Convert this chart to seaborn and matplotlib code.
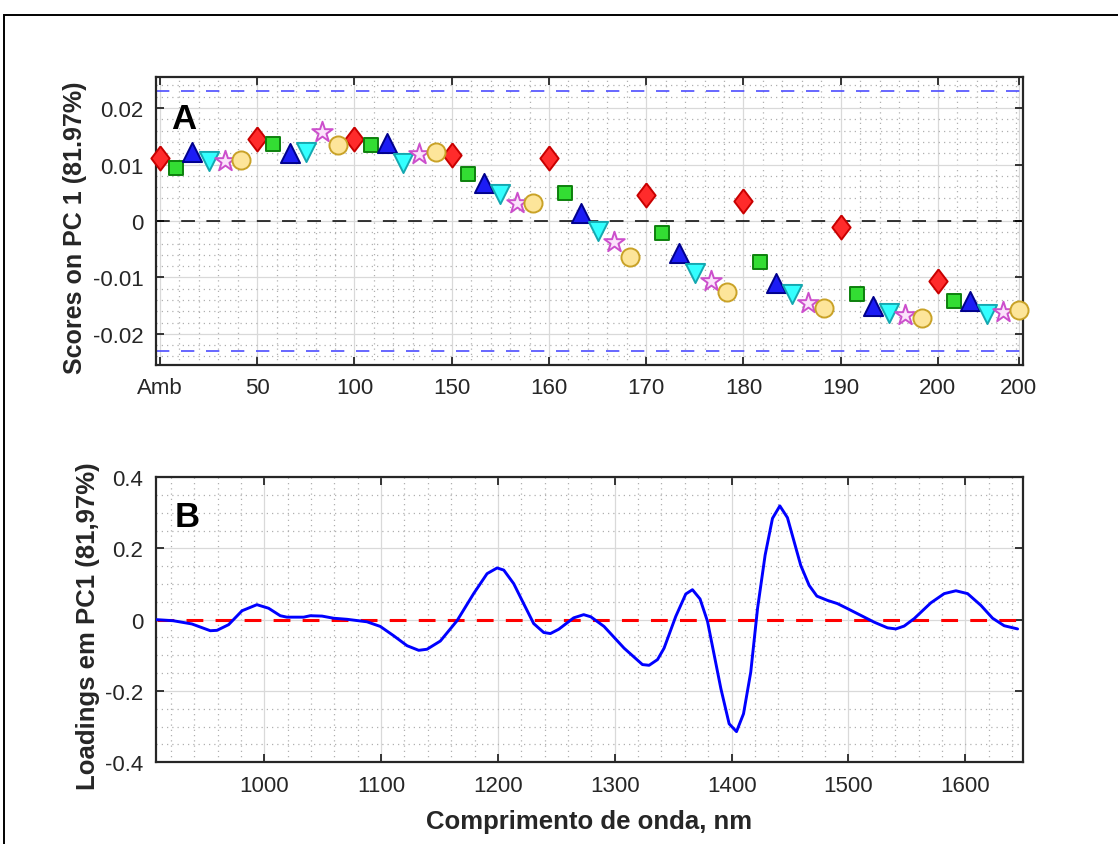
import numpy as np
import pandas as pd
import matplotlib
matplotlib.use("Agg")
import matplotlib.pyplot as plt
import seaborn as sns
from matplotlib.ticker import MultipleLocator, FixedLocator
from matplotlib.patches import Rectangle

sns.set_theme(style="white")
plt.rcParams["font.family"] = ["Liberation Sans", "DejaVu Sans"]

# ---------------- data ----------------
groups = ["Amb", "50", "100", "150", "160", "170", "180", "190", "200"]
tick_labels = ["Amb", "50", "100", "150", "160", "170", "180", "190", "200", "200"]

diamond = [0.0111, 0.0146, 0.0146, 0.0117, 0.0111, 0.0046, 0.0035, -0.0011, -0.0107]
square = [0.0094, 0.0136, 0.0135, 0.0083, 0.0050, -0.0021, -0.0073, -0.0129, -0.0141]
tri_up = [0.0123, 0.0120, 0.0138, 0.0067, 0.0014, -0.0057, -0.0110, -0.0151, -0.0142]
tri_down = [0.0106, 0.0123, 0.0103, 0.0047, -0.0018, -0.0092, -0.0129, -0.0163, -0.0165]
star = [0.0107, 0.0158, 0.0119, 0.0032, -0.0037, -0.0107, -0.0145, -0.0166, -0.0161]
circle = [0.0108, 0.0134, 0.0122, 0.0032, -0.0063, -0.0126, -0.0154, -0.0172, -0.0158]

conf_limit = 0.0231

wavelength = [907.8, 922, 938, 953.8, 959.5, 969.5, 981, 993.7, 1003.7, 1013.7,
              1019.4, 1033.7, 1039.4, 1049.4, 1059.3, 1070.8, 1087.9, 1099.3, 1110.7, 1122.2,
              1132.2, 1139.3, 1150.7, 1165, 1179.2, 1190.7, 1199.3, 1205, 1213.5, 1222,
              1230.6, 1239.2, 1244.9, 1252, 1264.8, 1273.4, 1279.5, 1290.8, 1308, 1323.7,
              1329.4, 1336.6, 1342.2, 1352.2, 1360.8, 1366.5, 1373, 1379.4, 1390.8, 1397.9,
              1404.2, 1410.2, 1416.4, 1422.2, 1428.7, 1435, 1441.3, 1447.8, 1459.2, 1466.4,
              1473, 1482.1, 1490.6, 1499.2, 1510.6, 1522, 1533.5, 1540.6, 1547.7, 1556.3,
              1570.5, 1582, 1592, 1602, 1613.4, 1623.4, 1633.3, 1644.8]
loading = [0.0, -0.003, -0.012, -0.031, -0.030, -0.014, 0.025, 0.042, 0.032, 0.011,
           0.007, 0.007, 0.011, 0.010, 0.004, 0.001, -0.006, -0.019, -0.045, -0.073,
           -0.086, -0.083, -0.060, -0.003, 0.073, 0.129, 0.145, 0.139, 0.101, 0.045,
           -0.011, -0.036, -0.039, -0.027, 0.005, 0.014, 0.008, -0.019, -0.080, -0.126,
           -0.128, -0.112, -0.080, 0.009, 0.072, 0.084, 0.058, -0.005, -0.193, -0.292,
           -0.314, -0.264, -0.147, 0.031, 0.181, 0.284, 0.319, 0.286, 0.152, 0.096,
           0.066, 0.054, 0.045, 0.031, 0.012, -0.007, -0.023, -0.026, -0.018, 0.003,
           0.047, 0.073, 0.081, 0.073, 0.040, 0.004, -0.017, -0.026]

# ---------------- styles ----------------
diamond_marker = [(0, 1), (0.76, 0), (0, -1), (-0.76, 0), (0, 1)]
series = [
    ("diamond", diamond, diamond_marker, 300, "#ff2b2b", "#c80000"),
    ("square", square, "s", 100, "#33dd33", "#0d800d"),
    ("tri_up", tri_up, "^", 190, "#1c1cf5", "#00008c"),
    ("tri_down", tri_down, "v", 190, "#33ffff", "#14a8b0"),
    ("star", star, "*", 240, "#fbe3fb", "#cc4fcc"),
    ("circle", circle, "o", 170, "#fde59a", "#c9a227"),
]
n_per = len(series)

rows = []
for k, (name, vals, *_rest) in enumerate(series):
    for g, v in enumerate(vals):
        rows.append({"series": name, "group": groups[g], "sample": g * n_per + k, "score": v})
df = pd.DataFrame(rows)
n_samples = len(groups) * n_per

fig = plt.figure(figsize=(11.18, 8.45), dpi=100)
ax1 = fig.add_axes([0.1395, 0.5669, 0.7755, 0.3408])
ax2 = fig.add_axes([0.1395, 0.0967, 0.7755, 0.3376])

spine_col = "#262626"
tick_fs = 16
label_fs = 18

# ---------------- panel A ----------------
ax1.axhline(0, color="black", lw=1.1, dashes=(9, 7.5), zorder=2)
for s in (conf_limit, -conf_limit):
    ax1.axhline(s, color="#4d4dff", lw=1.2, dashes=(8, 7), zorder=2)

for name, vals, mk, sz, fc, ec in series:
    sub = df[df["series"] == name]
    sns.scatterplot(data=sub, x="sample", y="score", marker=mk, s=sz, color=fc,
                    edgecolor=ec, linewidth=1.4, ax=ax1, zorder=5, clip_on=False,
                    legend=False)

ax1.set_xlim(-0.25, n_samples - 1 + 0.25)
ax1.set_ylim(-0.0255, 0.0255)
major_x = [i * n_per for i in range(len(groups))] + [n_samples - 1]
ax1.xaxis.set_major_locator(FixedLocator(major_x))
ax1.set_xticklabels(tick_labels)
ax1.xaxis.set_minor_locator(MultipleLocator(1.2))
ax1.yaxis.set_major_locator(MultipleLocator(0.01))
ax1.yaxis.set_minor_locator(MultipleLocator(0.002))
ax1.set_yticklabels([("0" if abs(t) < 1e-9 else f"{t:g}") for t in ax1.get_yticks()])
ax1.set_xlabel("")
ax1.set_ylabel("Scores on PC 1 (81.97%)", fontsize=label_fs, fontweight="bold", color=spine_col)
ax1.yaxis.set_label_coords(-0.0796, 0.48)
ax1.text(0.018, 0.855, "A", transform=ax1.transAxes, fontsize=25, fontweight="bold",
         va="center", ha="left", color="black", zorder=6)

# ---------------- panel B ----------------
ax2.hlines(0, wavelength[0], wavelength[-1], color="#ff0000", lw=2.2, linestyles=(0, (5.5, 4.0)), zorder=2)
sns.lineplot(x=wavelength, y=loading, color="#0000ff", lw=2.1, sort=False, estimator=None,
             ax=ax2, zorder=3)
ax2.set_xlim(907.3, 1649.4)
ax2.set_ylim(-0.4, 0.4)
ax2.xaxis.set_major_locator(MultipleLocator(100))
ax2.xaxis.set_minor_locator(MultipleLocator(20))
ax2.yaxis.set_major_locator(MultipleLocator(0.2))
ax2.yaxis.set_minor_locator(MultipleLocator(0.05))
ax2.set_yticks([-0.4, -0.2, 0, 0.2, 0.4])
ax2.set_yticklabels(["-0.4", "-0.2", "0", "0.2", "0.4"])
ax2.set_xlabel("Comprimento de onda, nm", fontsize=label_fs + 0.5, fontweight="bold", color=spine_col)
ax2.xaxis.set_label_coords(0.5, -0.165)
ax2.set_ylabel("Loadings em PC1 (81,97%)", fontsize=label_fs + 0.5, fontweight="bold", color=spine_col)
ax2.yaxis.set_label_coords(-0.0646, 0.48)
ax2.text(0.022, 0.86, "B", transform=ax2.transAxes, fontsize=25, fontweight="bold",
         va="center", ha="left", color="black", zorder=6)

for ax in (ax1, ax2):
    ax.grid(which="major", color="#d9d9d9", lw=0.9, ls="-", zorder=0)
    ax.grid(which="minor", color="#b0b0b0", lw=0.9, ls=(0, (1, 3.2)), zorder=0)
    ax.set_axisbelow(True)
    for sp in ax.spines.values():
        sp.set_color(spine_col)
        sp.set_linewidth(1.6)
        sp.set_visible(True)
    ax.tick_params(which="major", direction="in", length=6, width=1.3, color=spine_col,
                   top=True, right=True, bottom=True, left=True,
                   labelsize=tick_fs, labelcolor=spine_col, pad=9)
    ax.tick_params(which="minor", length=0, top=True, right=True, bottom=True, left=True)
    ax.set_facecolor("white")

# figure frame
fig.patches.append(Rectangle((4 / 1118, -0.05), 1.2, 1 - 16 / 845 + 0.05,
                             transform=fig.transFigure, fill=False, edgecolor="black",
                             lw=1.4, zorder=0))

fig.savefig("out.png", dpi=100, facecolor="white")
